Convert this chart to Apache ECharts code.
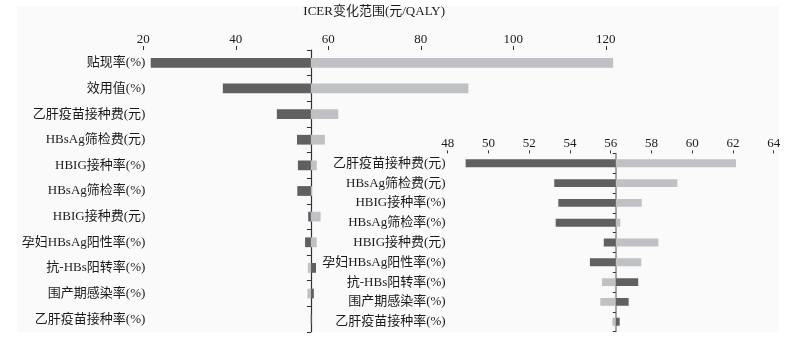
<!DOCTYPE html>
<html><head><meta charset="utf-8">
<script src="https://cdn.jsdelivr.net/npm/echarts@6/dist/echarts.min.js"></script>
<style>html,body{margin:0;padding:0;background:#fff}#c{width:802px;height:337px}</style>
</head><body><div id="c"></div>
<script>
const categories = ['贴现率(%)','效用值(%)','乙肝疫苗接种费(元)','HBsAg筛检费(元)','HBIG接种率(%)','HBsAg筛检率(%)','HBIG接种费(元)','孕妇HBsAg阳性率(%)','抗-HBs阳转率(%)','围产期感染率(%)','乙肝疫苗接种率(%)'];
const darkValues  = [21.6, 37.2, 48.88, 53.23, 53.43, 53.30, 55.66, 54.98, 57.35, 56.88, 56.44];
const lightValues = [121.6, 90.3, 62.15, 59.27, 57.52, 56.47, 58.34, 57.50, 55.57, 55.49, 56.08];
const baseICER = 56.25;
const mainTicks = [20, 40, 60, 80, 100, 120];
const insetStart = 2; // inset shows categories from index 2 on
const insetCategories = categories.slice(insetStart);
const insetDark = darkValues.slice(insetStart);
const insetLight = lightValues.slice(insetStart);

const FONT = "'Liberation Serif', 'Noto Sans CJK SC', serif";
const DARK = '#606060', LIGHT = '#bfc1c4';
const chart = echarts.init(document.getElementById('c'));

function barSeries(xi, yi, vals, color, ratio) {
  return {
    type: 'custom', xAxisIndex: xi, yAxisIndex: yi, clip: true,
    data: vals.map((v, i) => [v, i]),
    encode: { x: 0, y: 1 },
    renderItem: function (params, api) {
      const v = api.value(0), c = api.value(1);
      const p0 = api.coord([baseICER, c]);
      const p1 = api.coord([v, c]);
      const h = api.size([0, 1])[1] * ratio;
      const shape = echarts.graphic.clipRectByRect(
        { x: Math.min(p0[0], p1[0]), y: p0[1] - h / 2, width: Math.abs(p1[0] - p0[0]), height: h },
        { x: params.coordSys.x, y: params.coordSys.y, width: params.coordSys.width, height: params.coordSys.height });
      return shape && { type: 'rect', shape: shape, style: { fill: color } };
    }
  };
}

const labelStyle = { fontFamily: FONT, fontSize: 13, color: '#1a1a1a' };

const option = {
  animation: false,
  backgroundColor: '#fff',
  graphic: [{ type: 'rect', z: -10, shape: { x: 17, y: 6, width: 762, height: 326 }, style: { fill: '#fafafa' } }],
  grid: [
    { left: 143.3, right: 187, top: 45, height: 287 },
    { left: 447.7, right: 28.3, top: 153.4, height: 178.2 }
  ],
  xAxis: [
    { gridIndex: 0, type: 'value', position: 'top', min: 20, max: 122, interval: 20,
      name: 'ICER变化范围(元/QALY)', nameLocation: 'middle', nameGap: 32,
      nameTextStyle: Object.assign({}, labelStyle, { padding: [0, 10, 0, 0] }),
      axisLine: { lineStyle: { color: '#333', width: 1 } },
      axisTick: { show: true, length: 4, customValues: mainTicks, lineStyle: { color: '#333' } },
      axisLabel: Object.assign({ margin: 4, customValues: mainTicks }, labelStyle),
      splitLine: { show: false } },
    { gridIndex: 1, type: 'value', position: 'top', min: 48, max: 64, interval: 2,
      axisLine: { lineStyle: { color: '#333', width: 1 } },
      axisTick: { show: true, length: 3, lineStyle: { color: '#333' } },
      axisLabel: Object.assign({ margin: 3 }, labelStyle),
      splitLine: { show: false } }
  ],
  yAxis: [
    { gridIndex: 0, type: 'category', data: categories, inverse: true, position: 'left',
      axisLine: { show: false }, axisTick: { show: false },
      axisLabel: Object.assign({ margin: -2 }, labelStyle) },
    { gridIndex: 0, type: 'category', data: categories, inverse: true, position: 'left', offset: 0,
      axisLine: { show: true, lineStyle: { color: '#333', width: 1.2 } },
      axisTick: { show: true, length: 4, lineStyle: { color: '#333' } },
      axisLabel: { show: false } },
    { gridIndex: 1, type: 'category', data: insetCategories, inverse: true, position: 'left',
      axisLine: { show: false }, axisTick: { show: false },
      axisLabel: Object.assign({ margin: 2 }, labelStyle) },
    { gridIndex: 1, type: 'category', data: insetCategories, inverse: true, position: 'left', offset: 0,
      axisLine: { show: true, lineStyle: { color: '#8a8a8a', width: 1.5 } },
      axisTick: { show: true, length: 3, lineStyle: { color: '#333' } },
      axisLabel: { show: false } }
  ],
  series: [
    barSeries(0, 0, lightValues, LIGHT, 0.38),
    barSeries(0, 0, darkValues, DARK, 0.38),
    barSeries(1, 2, insetLight, LIGHT, 0.40),
    barSeries(1, 2, insetDark, DARK, 0.40)
  ]
};
chart.setOption(option);
const mainX = chart.convertToPixel({ xAxisIndex: 0 }, baseICER);
const insetX = chart.convertToPixel({ xAxisIndex: 1 }, baseICER);
chart.setOption({ yAxis: [{}, { offset: -(mainX - 143.3) }, {}, { offset: -(insetX - 447.7) }] });
</script></body></html>
